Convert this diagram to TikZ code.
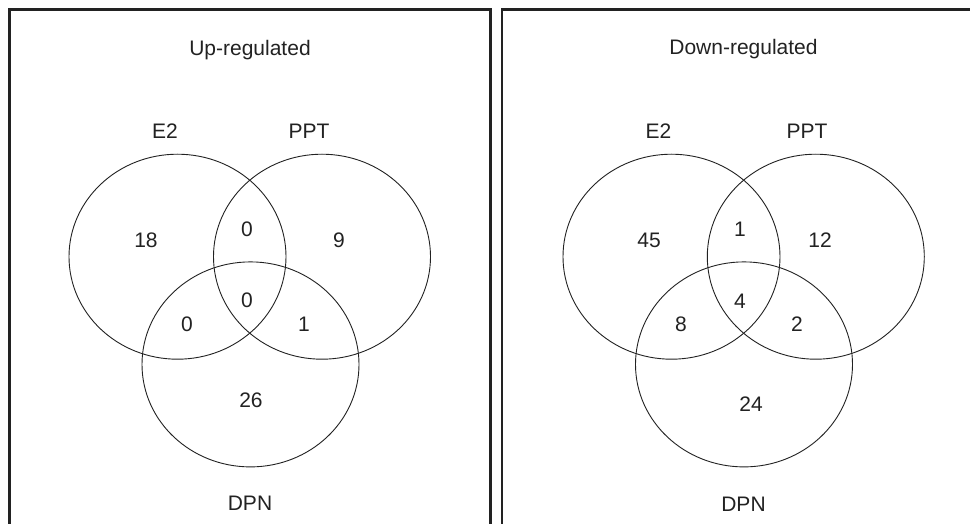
\documentclass[tikz,border=0pt]{standalone}
\usepackage{fontspec}
\setmainfont{Liberation Sans}
\usetikzlibrary{shapes.geometric}
\definecolor{ink}{HTML}{222222}
\begin{document}
\begin{tikzpicture}[x=1pt,y=-1pt,
  setring/.style={draw=ink,line width=0.9pt,shape=ellipse,inner sep=0pt,minimum width=217pt,minimum height=205pt},
  lbl/.style={text=ink,inner sep=0pt,font=\fontsize{21}{25}\selectfont},
  panel/.style={draw=ink,line width=2.2pt}]
\useasboundingbox (0,0) rectangle (970,524);
\clip (0,0) rectangle (970,524);
\fill[white] (0,0) rectangle (970,524);
% panels
\draw[panel] (9.5,540) -- (9.5,9.5) -- (490.5,9.5) -- (490.5,540);
\draw[panel] (502,540) -- (502,9.5) -- (990,9.5);
% left panel
\node[setring] (le2) at (177.5,256.7) {};
\node[setring] (lppt) at (322,256.7) {};
\node[setring] (ldpn) at (250.5,364.4) {};
\node[lbl] (ltitle) at (250,50) {Up-regulated};
\node[lbl] (le2l) at (165,131.5) {E2};
\node[lbl] (lpptl) at (309,131.5) {PPT};
\node[lbl] (ldpnl) at (250,503) {DPN};
\node[lbl] (ln1) at (146,240) {18};
\node[lbl] (ln2) at (247,229) {0};
\node[lbl] (ln3) at (339,240) {9};
\node[lbl] (ln4) at (247,300) {0};
\node[lbl] (ln5) at (187,324) {0};
\node[lbl] (ln6) at (304,324) {1};
\node[lbl] (ln7) at (251,400) {26};
% right panel
\node[setring] (re2) at (671.5,256.7) {};
\node[setring] (rppt) at (815.8,256.7) {};
\node[setring] (rdpn) at (744,364.4) {};
\node[lbl] (rtitle) at (743.5,49) {Down-regulated};
\node[lbl] (re2l) at (658.5,131.5) {E2};
\node[lbl] (rpptl) at (807,131.5) {PPT};
\node[lbl] (rdpnl) at (743.5,504) {DPN};
\node[lbl] (rn1) at (649,240) {45};
\node[lbl] (rn2) at (740,229) {1};
\node[lbl] (rn3) at (820,240) {12};
\node[lbl] (rn4) at (740,301) {4};
\node[lbl] (rn5) at (681,324) {8};
\node[lbl] (rn6) at (797,324) {2};
\node[lbl] (rn7) at (751,404) {24};
\end{tikzpicture}
\end{document}
